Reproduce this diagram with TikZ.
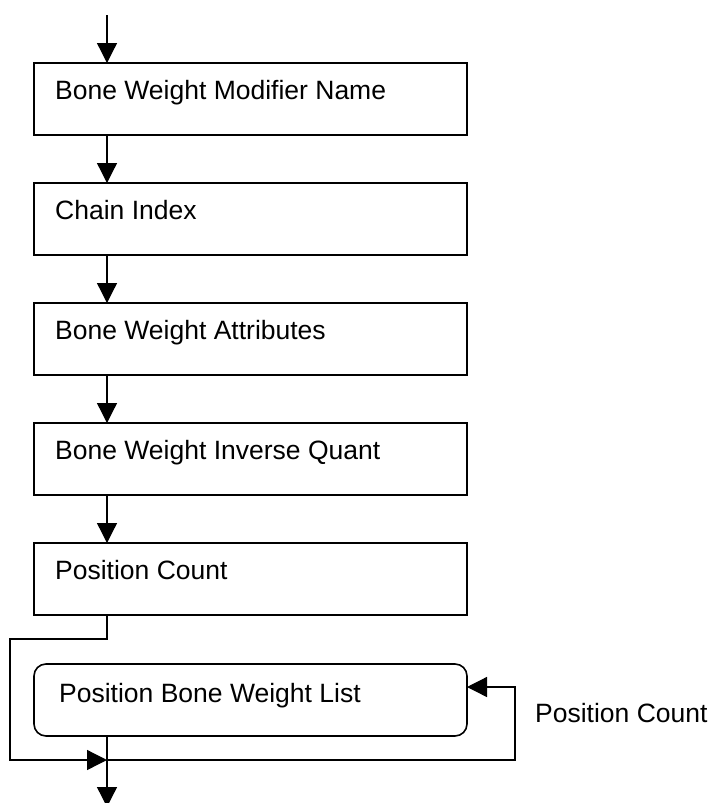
\documentclass[tikz,border=0pt]{standalone}
\usepackage{fontspec}
\setmainfont{Liberation Sans}
\usetikzlibrary{arrows.meta,calc}
\begin{document}
\begin{tikzpicture}[x=1pt,y=-1pt,
  box/.style={draw, line width=1.6pt, minimum width=433pt, minimum height=72pt, inner sep=0pt, outer sep=0pt},
  rbox/.style={box, rounded corners=12pt},
  boxtext/.style={anchor=base west, inner sep=0pt, font=\fontsize{26.5}{30}\selectfont},
  conn/.style={line width=1.3pt},
  arr/.style={conn, -{Triangle[length=20pt,width=20pt]}}
]
\useasboundingbox (0,0) rectangle (711,803);
\foreach \i/\t in {1/Bone Weight Modifier Name,2/Chain Index,3/Bone Weight Attributes,4/Bone Weight Inverse Quant,5/Position Count}{
  \node[box] (b\i) at (250.5,{99+120*(\i-1)}) {};
  \node[boxtext] (t\i) at ($(b\i.north west)+(21,36.5)$) {\t};
}
\node[rbox] (b6) at (250.5,700) {};
\node[boxtext] (t6) at ($(b6.north west)+(25,38)$) {Position Bone Weight List};
\node[boxtext] (lc) at (535,722) {Position Count};
\coordinate (start) at (107,15);
\coordinate (j) at (107,760);
\coordinate (lft) at (10,639);
\coordinate (out) at (107,807);
\draw[arr] (start) -- (start |- b1.north);
\foreach \a/\b in {1/2,2/3,3/4,4/5}{
  \draw[arr] ([xshift=73pt]b\a.south west) -- ([xshift=73pt]b\b.north west);
}
\draw[arr] ([xshift=73pt]b5.south west) |- (lft) |- (j);
\draw[arr] (j) -| ([xshift=48pt,yshift=13pt]b6.east) -- ([yshift=13pt]b6.east);
\draw[arr] (j |- b6.south) -- (out);
\end{tikzpicture}
\end{document}
